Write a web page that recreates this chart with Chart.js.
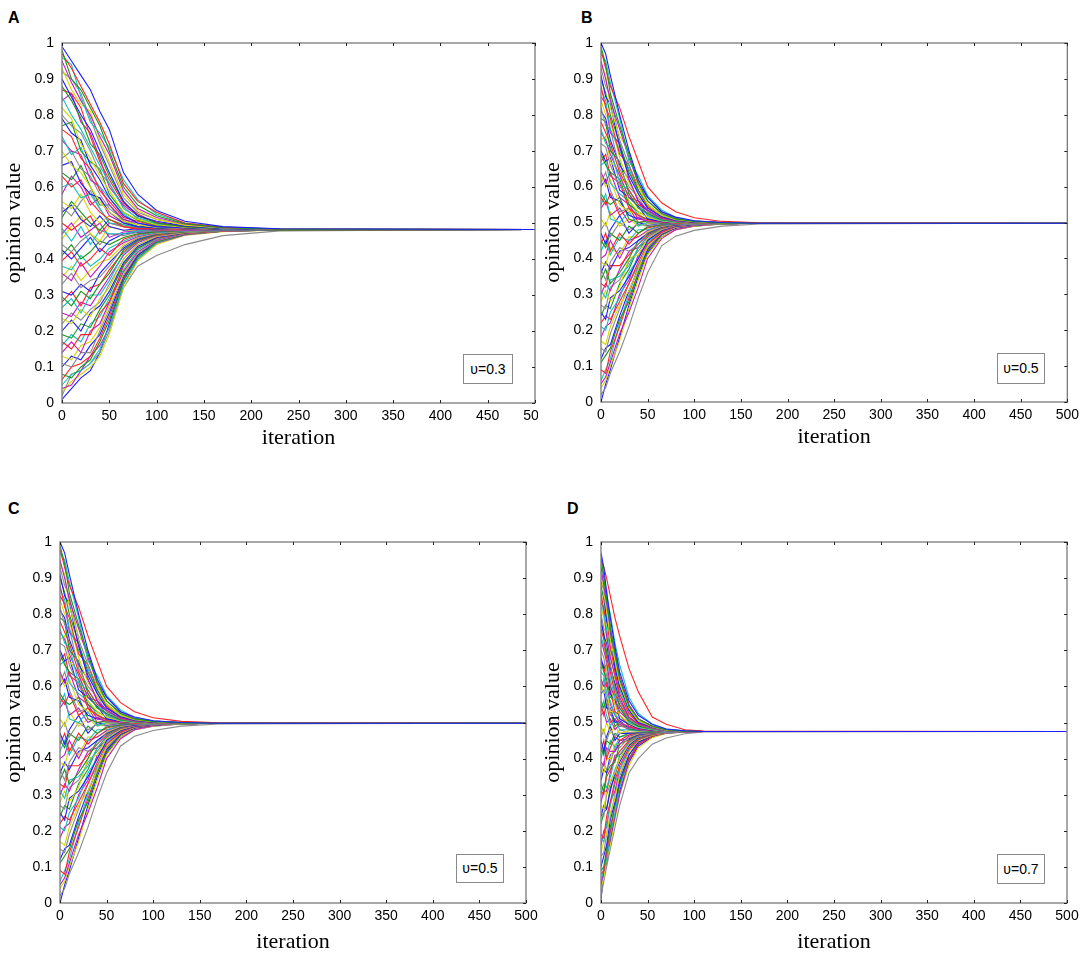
<!DOCTYPE html>
<html>
<head>
<meta charset="utf-8">
<script src="https://cdn.jsdelivr.net/npm/chart.js@4.4.0/dist/chart.umd.min.js"></script>
<style>
  body { margin: 0; background: #fff; width: 1084px; height: 961px; position: relative; overflow: hidden;
         font-family: "Liberation Sans", Arial, sans-serif; }
  .panel { position: absolute; overflow: hidden; }
  .tag { position: absolute; font-weight: bold; font-size: 16px; line-height: 18px; }
  .ubox { position: absolute; box-sizing: border-box; border: 1px solid #8a8a8a; font-size: 14px;
          text-align: center; background: #fff; }
</style>
</head>
<body>
<div class="tag" style="left:8px;top:9px">A</div>
<div class="tag" style="left:581px;top:9px">B</div>
<div class="tag" style="left:8px;top:500px">C</div>
<div class="tag" style="left:567px;top:500px">D</div>

<div class="panel" id="wrapA"><canvas id="chartA"></canvas></div>
<div class="panel" id="wrapB"><canvas id="chartB"></canvas></div>
<div class="panel" id="wrapC"><canvas id="chartC"></canvas></div>
<div class="panel" id="wrapD"><canvas id="chartD"></canvas></div>

<div class="ubox" style="left:463px;top:354px;width:50px;height:30px;line-height:28px">υ=0.3</div>
<div class="ubox" style="left:997px;top:353px;width:48px;height:31px;line-height:29px">υ=0.5</div>
<div class="ubox" style="left:456px;top:854px;width:48px;height:29px;line-height:27px">υ=0.5</div>
<div class="ubox" style="left:997px;top:854px;width:48px;height:30px;line-height:28px">υ=0.7</div>

<script>
//Tick values and labels shared by all four panels
const xTicks = [0, 50, 100, 150, 200, 250, 300, 350, 400, 450, 500];
const xTickLabels = ['0', '50', '100', '150', '200', '250', '300', '350', '400', '450', '500'];
const yTicks = [0, 0.1, 0.2, 0.3, 0.4, 0.5, 0.6, 0.7, 0.8, 0.9, 1];
const yTickLabels = ['0', '0.1', '0.2', '0.3', '0.4', '0.5', '0.6', '0.7', '0.8', '0.9', '1'];

//Panel A (υ=0.3): iterations where the opinions were read, one row per agent
const iterA = [0, 10, 20, 30, 40, 50, 65, 80, 100, 130, 170, 230, 500];
const opinionsA = [
  [0.99, 0.95, 0.91, 0.87, 0.81, 0.76, 0.64, 0.58, 0.535, 0.505, 0.490, 0.484, 0.482],
  [0.98, 0.90, 0.87, 0.82, 0.77, 0.70, 0.60, 0.55, 0.52, 0.498, 0.487, 0.483, 0.482],
  [0.97, 0.93, 0.88, 0.83, 0.78, 0.72, 0.61, 0.56, 0.53, 0.50, 0.488, 0.483, 0.482],
  [0.96, 0.94, 0.85, 0.78, 0.75, 0.71, 0.62, 0.565, 0.525, 0.50, 0.489, 0.483, 0.482],
  [0.95, 0.89, 0.84, 0.80, 0.74, 0.69, 0.59, 0.54, 0.515, 0.497, 0.487, 0.483, 0.482],
  [0.93, 0.87, 0.83, 0.81, 0.73, 0.67, 0.58, 0.535, 0.51, 0.494, 0.486, 0.483, 0.482],
  [0.92, 0.90, 0.86, 0.79, 0.72, 0.66, 0.57, 0.53, 0.51, 0.495, 0.486, 0.483, 0.482],
  [0.90, 0.85, 0.80, 0.76, 0.70, 0.64, 0.56, 0.52, 0.505, 0.492, 0.485, 0.482, 0.482],
  [0.88, 0.84, 0.79, 0.72, 0.69, 0.63, 0.56, 0.52, 0.50, 0.49, 0.485, 0.482, 0.482],
  [0.87, 0.86, 0.82, 0.74, 0.67, 0.62, 0.555, 0.525, 0.50, 0.49, 0.485, 0.482, 0.482],
  [0.85, 0.80, 0.76, 0.71, 0.66, 0.61, 0.54, 0.515, 0.498, 0.49, 0.484, 0.482, 0.482],
  [0.84, 0.86, 0.78, 0.75, 0.68, 0.60, 0.55, 0.52, 0.502, 0.491, 0.485, 0.482, 0.482],
  [0.82, 0.79, 0.72, 0.68, 0.63, 0.59, 0.53, 0.51, 0.495, 0.488, 0.484, 0.482, 0.482],
  [0.80, 0.77, 0.75, 0.70, 0.64, 0.61, 0.545, 0.512, 0.497, 0.489, 0.484, 0.482, 0.482],
  [0.79, 0.75, 0.73, 0.66, 0.62, 0.57, 0.52, 0.50, 0.49, 0.487, 0.483, 0.482, 0.482],
  [0.77, 0.78, 0.70, 0.67, 0.65, 0.58, 0.53, 0.508, 0.494, 0.487, 0.483, 0.482, 0.482],
  [0.76, 0.74, 0.68, 0.65, 0.59, 0.56, 0.515, 0.505, 0.492, 0.486, 0.483, 0.482, 0.482],
  [0.74, 0.69, 0.71, 0.64, 0.60, 0.57, 0.525, 0.50, 0.49, 0.486, 0.483, 0.482, 0.482],
  [0.73, 0.70, 0.69, 0.62, 0.60, 0.55, 0.51, 0.50, 0.49, 0.485, 0.483, 0.482, 0.482],
  [0.70, 0.66, 0.64, 0.60, 0.56, 0.53, 0.505, 0.495, 0.488, 0.485, 0.483, 0.482, 0.482],
  [0.68, 0.70, 0.65, 0.63, 0.58, 0.54, 0.51, 0.495, 0.488, 0.485, 0.483, 0.482, 0.482],
  [0.66, 0.67, 0.61, 0.58, 0.57, 0.53, 0.50, 0.49, 0.487, 0.484, 0.483, 0.482, 0.482],
  [0.64, 0.62, 0.66, 0.60, 0.55, 0.55, 0.505, 0.49, 0.486, 0.484, 0.482, 0.482, 0.482],
  [0.63, 0.60, 0.62, 0.56, 0.53, 0.51, 0.49, 0.485, 0.484, 0.483, 0.482, 0.482, 0.482],
  [0.60, 0.61, 0.57, 0.58, 0.54, 0.50, 0.495, 0.488, 0.485, 0.483, 0.482, 0.482, 0.482],
  [0.58, 0.63, 0.60, 0.55, 0.57, 0.52, 0.50, 0.49, 0.485, 0.483, 0.482, 0.482, 0.482],
  [0.56, 0.54, 0.58, 0.53, 0.50, 0.52, 0.50, 0.49, 0.486, 0.483, 0.482, 0.482, 0.482],
  [0.545, 0.52, 0.56, 0.59, 0.54, 0.50, 0.49, 0.487, 0.484, 0.483, 0.482, 0.482, 0.482],
  [0.53, 0.55, 0.51, 0.49, 0.52, 0.49, 0.48, 0.484, 0.483, 0.482, 0.482, 0.482, 0.482],
  [0.515, 0.56, 0.53, 0.50, 0.48, 0.51, 0.495, 0.486, 0.483, 0.482, 0.482, 0.482, 0.482],
  [0.50, 0.48, 0.50, 0.52, 0.47, 0.50, 0.49, 0.482, 0.481, 0.482, 0.482, 0.482, 0.482],
  [0.485, 0.45, 0.49, 0.44, 0.48, 0.47, 0.47, 0.478, 0.481, 0.482, 0.482, 0.482, 0.482],
  [0.47, 0.50, 0.46, 0.48, 0.50, 0.46, 0.475, 0.478, 0.480, 0.481, 0.482, 0.482, 0.482],
  [0.455, 0.49, 0.52, 0.47, 0.45, 0.49, 0.48, 0.479, 0.481, 0.482, 0.482, 0.482, 0.482],
  [0.44, 0.42, 0.45, 0.47, 0.44, 0.47, 0.465, 0.475, 0.478, 0.480, 0.481, 0.482, 0.482],
  [0.425, 0.40, 0.43, 0.46, 0.42, 0.45, 0.47, 0.474, 0.478, 0.48, 0.481, 0.482, 0.482],
  [0.41, 0.44, 0.40, 0.42, 0.45, 0.44, 0.46, 0.47, 0.476, 0.479, 0.481, 0.482, 0.482],
  [0.395, 0.42, 0.38, 0.40, 0.43, 0.41, 0.455, 0.468, 0.476, 0.479, 0.481, 0.482, 0.482],
  [0.38, 0.37, 0.41, 0.38, 0.40, 0.43, 0.45, 0.465, 0.474, 0.478, 0.481, 0.482, 0.482],
  [0.36, 0.34, 0.39, 0.35, 0.38, 0.42, 0.445, 0.462, 0.473, 0.478, 0.481, 0.482, 0.482],
  [0.35, 0.38, 0.34, 0.37, 0.39, 0.40, 0.44, 0.46, 0.472, 0.477, 0.480, 0.482, 0.482],
  [0.33, 0.36, 0.32, 0.34, 0.35, 0.38, 0.435, 0.458, 0.471, 0.477, 0.480, 0.482, 0.482],
  [0.31, 0.30, 0.33, 0.31, 0.36, 0.39, 0.43, 0.455, 0.47, 0.477, 0.480, 0.482, 0.482],
  [0.295, 0.27, 0.31, 0.29, 0.33, 0.36, 0.425, 0.452, 0.469, 0.476, 0.480, 0.481, 0.482],
  [0.28, 0.31, 0.27, 0.32, 0.33, 0.37, 0.42, 0.45, 0.467, 0.476, 0.480, 0.481, 0.482],
  [0.265, 0.29, 0.25, 0.30, 0.30, 0.34, 0.415, 0.448, 0.466, 0.475, 0.479, 0.481, 0.482],
  [0.25, 0.24, 0.28, 0.27, 0.31, 0.35, 0.41, 0.445, 0.465, 0.475, 0.479, 0.481, 0.482],
  [0.235, 0.22, 0.26, 0.24, 0.29, 0.32, 0.40, 0.44, 0.463, 0.474, 0.479, 0.481, 0.482],
  [0.22, 0.25, 0.23, 0.26, 0.28, 0.33, 0.40, 0.44, 0.462, 0.474, 0.479, 0.481, 0.482],
  [0.20, 0.23, 0.20, 0.25, 0.27, 0.31, 0.39, 0.435, 0.46, 0.473, 0.479, 0.481, 0.482],
  [0.19, 0.18, 0.22, 0.21, 0.26, 0.30, 0.385, 0.43, 0.46, 0.473, 0.479, 0.481, 0.482],
  [0.17, 0.15, 0.19, 0.19, 0.25, 0.28, 0.38, 0.43, 0.457, 0.472, 0.478, 0.481, 0.482],
  [0.16, 0.19, 0.17, 0.22, 0.24, 0.29, 0.37, 0.425, 0.455, 0.472, 0.478, 0.481, 0.482],
  [0.14, 0.17, 0.14, 0.20, 0.22, 0.28, 0.365, 0.42, 0.452, 0.471, 0.478, 0.481, 0.482],
  [0.13, 0.12, 0.16, 0.17, 0.21, 0.27, 0.36, 0.42, 0.452, 0.471, 0.478, 0.481, 0.482],
  [0.11, 0.10, 0.14, 0.14, 0.20, 0.26, 0.355, 0.415, 0.45, 0.47, 0.478, 0.481, 0.482],
  [0.10, 0.13, 0.12, 0.16, 0.19, 0.25, 0.35, 0.41, 0.45, 0.47, 0.478, 0.481, 0.482],
  [0.08, 0.07, 0.10, 0.12, 0.17, 0.23, 0.34, 0.405, 0.447, 0.469, 0.477, 0.481, 0.482],
  [0.065, 0.10, 0.11, 0.13, 0.18, 0.24, 0.345, 0.41, 0.448, 0.469, 0.477, 0.481, 0.482],
  [0.05, 0.08, 0.09, 0.11, 0.15, 0.21, 0.33, 0.40, 0.445, 0.468, 0.477, 0.481, 0.482],
  [0.04, 0.05, 0.09, 0.13, 0.16, 0.21, 0.33, 0.40, 0.444, 0.467, 0.477, 0.481, 0.482],
  [0.03, 0.06, 0.08, 0.10, 0.13, 0.19, 0.32, 0.395, 0.44, 0.466, 0.476, 0.481, 0.482],
  [0.02, 0.08, 0.09, 0.11, 0.14, 0.20, 0.32, 0.38, 0.41, 0.44, 0.465, 0.478, 0.482],
  [0.01, 0.04, 0.07, 0.09, 0.14, 0.22, 0.34, 0.41, 0.45, 0.47, 0.478, 0.481, 0.482]
];

//Panel B (υ=0.5)
const iterB = [0, 5, 10, 20, 30, 40, 50, 65, 80, 100, 130, 170, 500];
const opinionsB = [
  [1.00, 0.97, 0.91, 0.80, 0.70, 0.62, 0.57, 0.53, 0.515, 0.505, 0.500, 0.498, 0.498],
  [0.99, 0.94, 0.86, 0.77, 0.69, 0.61, 0.56, 0.525, 0.51, 0.503, 0.499, 0.498, 0.498],
  [0.98, 0.93, 0.88, 0.82, 0.74, 0.67, 0.60, 0.555, 0.53, 0.513, 0.503, 0.499, 0.498],
  [0.97, 0.95, 0.89, 0.79, 0.67, 0.63, 0.575, 0.535, 0.514, 0.504, 0.500, 0.498, 0.498],
  [0.95, 0.90, 0.84, 0.76, 0.68, 0.61, 0.57, 0.53, 0.512, 0.504, 0.500, 0.498, 0.498],
  [0.94, 0.91, 0.82, 0.74, 0.70, 0.60, 0.55, 0.52, 0.508, 0.502, 0.499, 0.498, 0.498],
  [0.93, 0.88, 0.85, 0.73, 0.66, 0.60, 0.56, 0.525, 0.51, 0.503, 0.499, 0.498, 0.498],
  [0.91, 0.85, 0.83, 0.71, 0.63, 0.58, 0.54, 0.516, 0.506, 0.501, 0.499, 0.498, 0.498],
  [0.90, 0.86, 0.80, 0.72, 0.64, 0.59, 0.55, 0.52, 0.508, 0.502, 0.499, 0.498, 0.498],
  [0.88, 0.82, 0.79, 0.69, 0.66, 0.59, 0.545, 0.514, 0.505, 0.500, 0.499, 0.498, 0.498],
  [0.87, 0.84, 0.76, 0.70, 0.65, 0.58, 0.54, 0.515, 0.506, 0.501, 0.499, 0.498, 0.498],
  [0.85, 0.83, 0.75, 0.72, 0.62, 0.56, 0.535, 0.512, 0.504, 0.500, 0.498, 0.498, 0.498],
  [0.84, 0.80, 0.78, 0.68, 0.61, 0.57, 0.545, 0.517, 0.505, 0.500, 0.499, 0.498, 0.498],
  [0.82, 0.77, 0.76, 0.65, 0.60, 0.57, 0.53, 0.51, 0.503, 0.499, 0.498, 0.498, 0.498],
  [0.81, 0.79, 0.73, 0.66, 0.62, 0.56, 0.53, 0.512, 0.504, 0.500, 0.498, 0.498, 0.498],
  [0.79, 0.78, 0.70, 0.67, 0.58, 0.54, 0.525, 0.508, 0.502, 0.499, 0.498, 0.498, 0.498],
  [0.78, 0.75, 0.72, 0.64, 0.59, 0.55, 0.535, 0.51, 0.503, 0.499, 0.498, 0.498, 0.498],
  [0.76, 0.72, 0.71, 0.61, 0.59, 0.55, 0.52, 0.506, 0.501, 0.499, 0.498, 0.498, 0.498],
  [0.75, 0.73, 0.69, 0.63, 0.57, 0.56, 0.52, 0.508, 0.502, 0.499, 0.498, 0.498, 0.498],
  [0.73, 0.74, 0.67, 0.64, 0.56, 0.53, 0.515, 0.504, 0.500, 0.498, 0.498, 0.498, 0.498],
  [0.72, 0.71, 0.66, 0.60, 0.58, 0.54, 0.525, 0.506, 0.501, 0.499, 0.498, 0.498, 0.498],
  [0.70, 0.67, 0.68, 0.59, 0.57, 0.545, 0.51, 0.503, 0.500, 0.498, 0.498, 0.498, 0.498],
  [0.69, 0.66, 0.64, 0.62, 0.55, 0.53, 0.515, 0.505, 0.500, 0.499, 0.498, 0.498, 0.498],
  [0.67, 0.69, 0.63, 0.61, 0.54, 0.52, 0.508, 0.502, 0.499, 0.498, 0.498, 0.498, 0.498],
  [0.66, 0.67, 0.61, 0.58, 0.56, 0.52, 0.51, 0.503, 0.500, 0.498, 0.498, 0.498, 0.498],
  [0.64, 0.61, 0.64, 0.57, 0.55, 0.51, 0.505, 0.501, 0.499, 0.498, 0.498, 0.498, 0.498],
  [0.63, 0.60, 0.62, 0.55, 0.53, 0.525, 0.505, 0.502, 0.499, 0.498, 0.498, 0.498, 0.498],
  [0.61, 0.64, 0.59, 0.53, 0.54, 0.52, 0.50, 0.500, 0.498, 0.498, 0.498, 0.498, 0.498],
  [0.60, 0.62, 0.57, 0.56, 0.52, 0.51, 0.51, 0.500, 0.499, 0.498, 0.498, 0.498, 0.498],
  [0.58, 0.56, 0.55, 0.57, 0.51, 0.50, 0.503, 0.499, 0.498, 0.498, 0.498, 0.498, 0.498],
  [0.57, 0.55, 0.58, 0.52, 0.54, 0.50, 0.505, 0.499, 0.498, 0.498, 0.498, 0.498, 0.498],
  [0.55, 0.58, 0.51, 0.50, 0.53, 0.49, 0.50, 0.498, 0.498, 0.498, 0.498, 0.498, 0.498],
  [0.54, 0.56, 0.52, 0.54, 0.50, 0.515, 0.50, 0.498, 0.498, 0.498, 0.498, 0.498, 0.498],
  [0.51, 0.49, 0.53, 0.49, 0.51, 0.49, 0.497, 0.498, 0.498, 0.498, 0.498, 0.498, 0.498],
  [0.48, 0.50, 0.46, 0.50, 0.48, 0.495, 0.49, 0.496, 0.497, 0.498, 0.498, 0.498, 0.498],
  [0.47, 0.44, 0.48, 0.52, 0.47, 0.50, 0.492, 0.496, 0.497, 0.498, 0.498, 0.498, 0.498],
  [0.45, 0.43, 0.47, 0.45, 0.49, 0.47, 0.488, 0.494, 0.497, 0.498, 0.498, 0.498, 0.498],
  [0.44, 0.47, 0.42, 0.47, 0.44, 0.47, 0.485, 0.493, 0.497, 0.498, 0.498, 0.498, 0.498],
  [0.42, 0.45, 0.41, 0.46, 0.45, 0.48, 0.48, 0.492, 0.496, 0.497, 0.498, 0.498, 0.498],
  [0.40, 0.41, 0.45, 0.40, 0.45, 0.46, 0.478, 0.491, 0.496, 0.497, 0.498, 0.498, 0.498],
  [0.39, 0.38, 0.43, 0.41, 0.46, 0.46, 0.475, 0.49, 0.495, 0.497, 0.498, 0.498, 0.498],
  [0.37, 0.34, 0.39, 0.43, 0.42, 0.44, 0.472, 0.489, 0.495, 0.497, 0.498, 0.498, 0.498],
  [0.36, 0.39, 0.37, 0.42, 0.43, 0.45, 0.47, 0.488, 0.494, 0.497, 0.498, 0.498, 0.498],
  [0.34, 0.37, 0.33, 0.36, 0.40, 0.45, 0.468, 0.487, 0.494, 0.497, 0.498, 0.498, 0.498],
  [0.33, 0.32, 0.38, 0.38, 0.41, 0.44, 0.465, 0.485, 0.493, 0.497, 0.498, 0.498, 0.498],
  [0.31, 0.29, 0.34, 0.35, 0.38, 0.43, 0.462, 0.484, 0.493, 0.496, 0.498, 0.498, 0.498],
  [0.30, 0.33, 0.31, 0.37, 0.42, 0.43, 0.46, 0.483, 0.492, 0.496, 0.498, 0.498, 0.498],
  [0.28, 0.31, 0.28, 0.32, 0.40, 0.41, 0.457, 0.481, 0.492, 0.496, 0.497, 0.498, 0.498],
  [0.27, 0.26, 0.32, 0.34, 0.39, 0.42, 0.455, 0.48, 0.491, 0.496, 0.497, 0.498, 0.498],
  [0.25, 0.23, 0.29, 0.31, 0.35, 0.40, 0.45, 0.478, 0.49, 0.495, 0.497, 0.498, 0.498],
  [0.24, 0.27, 0.26, 0.33, 0.37, 0.43, 0.45, 0.478, 0.49, 0.495, 0.497, 0.498, 0.498],
  [0.22, 0.24, 0.23, 0.28, 0.33, 0.39, 0.44, 0.474, 0.489, 0.495, 0.497, 0.498, 0.498],
  [0.21, 0.20, 0.25, 0.29, 0.36, 0.40, 0.445, 0.475, 0.489, 0.495, 0.497, 0.498, 0.498],
  [0.18, 0.21, 0.22, 0.30, 0.34, 0.41, 0.44, 0.472, 0.488, 0.494, 0.497, 0.498, 0.498],
  [0.17, 0.16, 0.21, 0.27, 0.31, 0.37, 0.435, 0.471, 0.487, 0.494, 0.497, 0.498, 0.498],
  [0.15, 0.14, 0.19, 0.26, 0.33, 0.38, 0.43, 0.47, 0.486, 0.494, 0.497, 0.498, 0.498],
  [0.12, 0.15, 0.16, 0.24, 0.31, 0.37, 0.425, 0.468, 0.485, 0.493, 0.497, 0.498, 0.498],
  [0.11, 0.13, 0.15, 0.23, 0.28, 0.36, 0.42, 0.466, 0.485, 0.493, 0.497, 0.498, 0.498],
  [0.09, 0.08, 0.14, 0.21, 0.29, 0.36, 0.42, 0.465, 0.484, 0.493, 0.497, 0.498, 0.498],
  [0.06, 0.09, 0.12, 0.22, 0.30, 0.38, 0.43, 0.47, 0.486, 0.494, 0.497, 0.498, 0.498],
  [0.05, 0.07, 0.11, 0.19, 0.25, 0.32, 0.40, 0.455, 0.48, 0.491, 0.496, 0.498, 0.498],
  [0.04, 0.06, 0.10, 0.17, 0.26, 0.34, 0.41, 0.46, 0.48, 0.49, 0.496, 0.498, 0.498],
  [0.02, 0.04, 0.08, 0.14, 0.21, 0.29, 0.36, 0.435, 0.462, 0.478, 0.49, 0.496, 0.498],
  [0.00, 0.05, 0.09, 0.18, 0.27, 0.35, 0.415, 0.46, 0.48, 0.49, 0.496, 0.498, 0.498]
];

//Panel C (υ=0.5) shows the very same run as panel B
const iterC = iterB;
const opinionsC = opinionsB;

//Panel D (υ=0.7)
const iterD = [0, 3, 6, 10, 15, 20, 30, 40, 55, 70, 90, 110, 500];
const opinionsD = [
  [0.97, 0.93, 0.86, 0.79, 0.71, 0.64, 0.56, 0.52, 0.495, 0.482, 0.477, 0.475, 0.475],
  [0.96, 0.90, 0.84, 0.76, 0.69, 0.62, 0.545, 0.51, 0.49, 0.48, 0.476, 0.475, 0.475],
  [0.95, 0.93, 0.90, 0.85, 0.79, 0.74, 0.65, 0.585, 0.515, 0.495, 0.48, 0.476, 0.475],
  [0.94, 0.91, 0.85, 0.80, 0.72, 0.66, 0.57, 0.525, 0.495, 0.482, 0.477, 0.475, 0.475],
  [0.93, 0.88, 0.83, 0.76, 0.70, 0.63, 0.55, 0.51, 0.49, 0.48, 0.476, 0.475, 0.475],
  [0.91, 0.86, 0.81, 0.73, 0.67, 0.61, 0.54, 0.505, 0.488, 0.479, 0.476, 0.475, 0.475],
  [0.90, 0.89, 0.87, 0.77, 0.68, 0.62, 0.545, 0.51, 0.488, 0.479, 0.476, 0.475, 0.475],
  [0.89, 0.87, 0.78, 0.75, 0.65, 0.60, 0.535, 0.50, 0.487, 0.478, 0.476, 0.475, 0.475],
  [0.88, 0.84, 0.79, 0.74, 0.66, 0.60, 0.54, 0.505, 0.487, 0.479, 0.476, 0.475, 0.475],
  [0.86, 0.81, 0.79, 0.71, 0.64, 0.58, 0.525, 0.498, 0.486, 0.478, 0.476, 0.475, 0.475],
  [0.85, 0.80, 0.76, 0.70, 0.67, 0.59, 0.53, 0.50, 0.486, 0.478, 0.476, 0.475, 0.475],
  [0.83, 0.82, 0.74, 0.68, 0.63, 0.57, 0.515, 0.496, 0.484, 0.477, 0.475, 0.475, 0.475],
  [0.82, 0.79, 0.73, 0.69, 0.62, 0.58, 0.52, 0.498, 0.485, 0.478, 0.476, 0.475, 0.475],
  [0.80, 0.76, 0.75, 0.66, 0.59, 0.56, 0.51, 0.494, 0.483, 0.477, 0.475, 0.475, 0.475],
  [0.79, 0.74, 0.72, 0.65, 0.61, 0.56, 0.515, 0.495, 0.484, 0.478, 0.476, 0.475, 0.475],
  [0.77, 0.75, 0.69, 0.66, 0.60, 0.54, 0.505, 0.49, 0.482, 0.477, 0.475, 0.475, 0.475],
  [0.76, 0.73, 0.68, 0.64, 0.58, 0.55, 0.51, 0.493, 0.483, 0.477, 0.475, 0.475, 0.475],
  [0.74, 0.71, 0.70, 0.62, 0.57, 0.55, 0.50, 0.488, 0.481, 0.476, 0.475, 0.475, 0.475],
  [0.73, 0.70, 0.67, 0.60, 0.57, 0.53, 0.505, 0.49, 0.482, 0.477, 0.475, 0.475, 0.475],
  [0.71, 0.72, 0.65, 0.61, 0.55, 0.52, 0.498, 0.486, 0.48, 0.476, 0.475, 0.475, 0.475],
  [0.70, 0.68, 0.63, 0.60, 0.55, 0.54, 0.50, 0.488, 0.481, 0.477, 0.475, 0.475, 0.475],
  [0.68, 0.65, 0.66, 0.58, 0.56, 0.51, 0.495, 0.484, 0.479, 0.476, 0.475, 0.475, 0.475],
  [0.67, 0.64, 0.62, 0.57, 0.56, 0.52, 0.497, 0.485, 0.48, 0.476, 0.475, 0.475, 0.475],
  [0.65, 0.66, 0.60, 0.59, 0.53, 0.52, 0.49, 0.483, 0.478, 0.476, 0.475, 0.475, 0.475],
  [0.64, 0.63, 0.58, 0.56, 0.52, 0.51, 0.495, 0.484, 0.479, 0.476, 0.475, 0.475, 0.475],
  [0.62, 0.60, 0.61, 0.55, 0.52, 0.50, 0.488, 0.481, 0.478, 0.475, 0.475, 0.475, 0.475],
  [0.61, 0.58, 0.59, 0.53, 0.53, 0.50, 0.49, 0.482, 0.478, 0.476, 0.475, 0.475, 0.475],
  [0.59, 0.62, 0.56, 0.52, 0.53, 0.49, 0.485, 0.48, 0.477, 0.475, 0.475, 0.475, 0.475],
  [0.58, 0.59, 0.54, 0.54, 0.50, 0.505, 0.485, 0.48, 0.477, 0.476, 0.475, 0.475, 0.475],
  [0.56, 0.54, 0.57, 0.53, 0.49, 0.50, 0.482, 0.479, 0.476, 0.475, 0.475, 0.475, 0.475],
  [0.55, 0.52, 0.55, 0.50, 0.51, 0.49, 0.487, 0.479, 0.477, 0.475, 0.475, 0.475, 0.475],
  [0.53, 0.56, 0.52, 0.49, 0.51, 0.48, 0.48, 0.477, 0.476, 0.475, 0.475, 0.475, 0.475],
  [0.52, 0.53, 0.50, 0.51, 0.48, 0.495, 0.48, 0.478, 0.476, 0.475, 0.475, 0.475, 0.475],
  [0.49, 0.47, 0.50, 0.47, 0.49, 0.47, 0.478, 0.476, 0.475, 0.475, 0.475, 0.475, 0.475],
  [0.46, 0.48, 0.45, 0.48, 0.46, 0.48, 0.472, 0.474, 0.475, 0.475, 0.475, 0.475, 0.475],
  [0.45, 0.42, 0.46, 0.49, 0.45, 0.47, 0.47, 0.473, 0.475, 0.475, 0.475, 0.475, 0.475],
  [0.43, 0.41, 0.45, 0.44, 0.47, 0.46, 0.47, 0.472, 0.474, 0.475, 0.475, 0.475, 0.475],
  [0.42, 0.45, 0.40, 0.43, 0.46, 0.45, 0.466, 0.472, 0.474, 0.475, 0.475, 0.475, 0.475],
  [0.40, 0.43, 0.41, 0.45, 0.43, 0.46, 0.465, 0.471, 0.473, 0.474, 0.475, 0.475, 0.475],
  [0.39, 0.38, 0.43, 0.42, 0.42, 0.44, 0.462, 0.47, 0.473, 0.474, 0.475, 0.475, 0.475],
  [0.37, 0.36, 0.40, 0.40, 0.44, 0.44, 0.46, 0.469, 0.473, 0.474, 0.475, 0.475, 0.475],
  [0.36, 0.39, 0.37, 0.39, 0.43, 0.43, 0.458, 0.468, 0.472, 0.474, 0.475, 0.475, 0.475],
  [0.34, 0.37, 0.36, 0.41, 0.42, 0.45, 0.455, 0.467, 0.472, 0.474, 0.475, 0.475, 0.475],
  [0.33, 0.31, 0.36, 0.38, 0.39, 0.44, 0.452, 0.466, 0.472, 0.474, 0.475, 0.475, 0.475],
  [0.31, 0.30, 0.35, 0.37, 0.40, 0.42, 0.45, 0.465, 0.471, 0.474, 0.475, 0.475, 0.475],
  [0.30, 0.33, 0.32, 0.35, 0.40, 0.41, 0.447, 0.463, 0.471, 0.474, 0.475, 0.475, 0.475],
  [0.28, 0.31, 0.31, 0.36, 0.41, 0.41, 0.445, 0.462, 0.47, 0.474, 0.475, 0.475, 0.475],
  [0.27, 0.26, 0.31, 0.34, 0.36, 0.40, 0.442, 0.461, 0.47, 0.473, 0.475, 0.475, 0.475],
  [0.25, 0.24, 0.30, 0.33, 0.37, 0.40, 0.44, 0.46, 0.469, 0.473, 0.475, 0.475, 0.475],
  [0.24, 0.27, 0.26, 0.31, 0.36, 0.39, 0.437, 0.459, 0.469, 0.473, 0.475, 0.475, 0.475],
  [0.22, 0.25, 0.26, 0.32, 0.35, 0.41, 0.435, 0.458, 0.468, 0.473, 0.475, 0.475, 0.475],
  [0.19, 0.18, 0.24, 0.28, 0.34, 0.38, 0.43, 0.455, 0.467, 0.473, 0.475, 0.475, 0.475],
  [0.18, 0.17, 0.22, 0.27, 0.33, 0.37, 0.428, 0.454, 0.467, 0.473, 0.475, 0.475, 0.475],
  [0.16, 0.20, 0.21, 0.28, 0.31, 0.37, 0.425, 0.452, 0.466, 0.472, 0.474, 0.475, 0.475],
  [0.14, 0.17, 0.19, 0.25, 0.29, 0.36, 0.42, 0.45, 0.465, 0.472, 0.474, 0.475, 0.475],
  [0.13, 0.14, 0.19, 0.24, 0.30, 0.35, 0.42, 0.45, 0.465, 0.472, 0.474, 0.475, 0.475],
  [0.10, 0.13, 0.16, 0.23, 0.28, 0.34, 0.41, 0.445, 0.464, 0.472, 0.474, 0.475, 0.475],
  [0.09, 0.10, 0.15, 0.21, 0.27, 0.33, 0.41, 0.446, 0.464, 0.472, 0.474, 0.475, 0.475],
  [0.08, 0.09, 0.14, 0.20, 0.27, 0.33, 0.40, 0.44, 0.462, 0.471, 0.474, 0.475, 0.475],
  [0.06, 0.10, 0.12, 0.19, 0.25, 0.32, 0.40, 0.442, 0.463, 0.471, 0.474, 0.475, 0.475],
  [0.05, 0.09, 0.13, 0.18, 0.24, 0.30, 0.395, 0.44, 0.462, 0.471, 0.474, 0.475, 0.475],
  [0.04, 0.07, 0.12, 0.16, 0.23, 0.30, 0.38, 0.43, 0.458, 0.47, 0.474, 0.475, 0.475],
  [0.02, 0.06, 0.10, 0.15, 0.21, 0.27, 0.36, 0.40, 0.44, 0.457, 0.469, 0.474, 0.475],
  [0.01, 0.08, 0.11, 0.17, 0.24, 0.31, 0.39, 0.435, 0.46, 0.47, 0.474, 0.475, 0.475]
];

//MATLAB style colour cycle b, g, r, c, m, y, k
const lineColors = ['#1e1eff', '#1a961a', '#ff2424', '#17c0c0', '#c31ac3', '#d6d600', '#8a8a8a'];

//Draws the box round the axes and the small inward tick marks
const framePlugin = {
  id: 'frame',
  afterDatasetsDraw(chart) {
    const {ctx, chartArea: a, scales: {x, y}} = chart;
    ctx.save();
    ctx.strokeStyle = '#7a7a7a';
    ctx.lineWidth = 1.3;
    ctx.strokeRect(a.left, a.top, a.right - a.left, a.bottom - a.top);
    ctx.strokeStyle = '#222';
    ctx.lineWidth = 1;
    ctx.beginPath();
    x.ticks.forEach(t => {
      const px = Math.round(x.getPixelForValue(t.value)) + 0.5;
      ctx.moveTo(px, a.top); ctx.lineTo(px, a.top + 3);
      ctx.moveTo(px, a.bottom); ctx.lineTo(px, a.bottom - 3);
    });
    y.ticks.forEach(t => {
      const py = Math.round(y.getPixelForValue(t.value)) + 0.5;
      ctx.moveTo(a.right, py); ctx.lineTo(a.right - 3, py);
    });
    ctx.stroke();
    ctx.restore();
  }
};

//Builds one panel; geo holds where the canvas sits and where the plot box must land
function makePanel(id, iters, opinions, geo){
  const wrap = document.getElementById('wrap' + id);
  wrap.style.left = geo.cx + 'px';
  wrap.style.top = geo.cy + 'px';
  wrap.style.width = (geo.clipW || geo.cw) + 'px';
  wrap.style.height = geo.ch + 'px';
  const canvas = document.getElementById('chart' + id);
  canvas.width = geo.cw;
  canvas.height = geo.ch;

  const datasets = opinions.map((vals, i) => ({
    data: vals.map((v, k) => ({x: iters[k], y: v})),
    borderColor: lineColors[i % lineColors.length],
    borderWidth: 1.1,
    pointRadius: 0,
    fill: false,
    tension: 0
  }));

  const tickFont = {family: '"Liberation Sans", Arial, sans-serif', size: 14};
  const titleFont = {family: '"Liberation Serif", "Times New Roman", serif', size: 22};

  return new Chart(canvas, {
    type: 'line',
    data: {datasets},
    options: {
      responsive: false,
      animation: false,
      layout: {padding: {
        left: 0,
        top: geo.t - geo.cy,
        right: geo.cx + geo.cw - geo.r,
        bottom: geo.cy + geo.ch - geo.b - geo.xh
      }},
      plugins: {legend: {display: false}, tooltip: {enabled: false}},
      scales: {
        x: {
          type: 'linear', min: 0, max: 500,
          afterBuildTicks: s => { s.ticks = xTicks.map(v => ({value: v})); },
          afterFit: s => { s.height = geo.xh; },
          ticks: {font: tickFont, color: '#000', padding: 5, maxRotation: 0, autoSkip: false,
                  callback: (v, i) => xTickLabels[i]},
          grid: {display: false, drawTicks: false},
          border: {display: false},
          title: {display: true, text: 'iteration', font: titleFont, color: '#000',
                  padding: {top: 0, bottom: geo.tb}}
        },
        y: {
          type: 'linear', min: 0, max: 1,
          afterBuildTicks: s => { s.ticks = yTicks.map(v => ({value: v})); },
          afterFit: s => { s.width = geo.l - geo.cx; },
          ticks: {font: tickFont, color: '#000', padding: 8, autoSkip: false,
                  callback: (v, i) => yTickLabels[i]},
          grid: {display: false, drawTicks: false},
          border: {display: false},
          title: {display: true, text: 'opinion value', font: titleFont, color: '#000',
                  padding: {top: 1, bottom: 0}}
        }
      }
    },
    plugins: [framePlugin]
  });
}

makePanel('A', iterA, opinionsA, {cx: 0, cy: 0, cw: 560, ch: 480, clipW: 538, l: 62, t: 43, r: 535, b: 403, xh: 50, tb: 2});
makePanel('B', iterB, opinionsB, {cx: 539, cy: 0, cw: 545, ch: 480, l: 601, t: 43, r: 1068, b: 402, xh: 50, tb: 2});
makePanel('C', iterC, opinionsC, {cx: 0, cy: 490, cw: 545, ch: 471, l: 60, t: 542, r: 526, b: 903, xh: 54, tb: 2});
makePanel('D', iterD, opinionsD, {cx: 539, cy: 490, cw: 545, ch: 471, l: 601, t: 542, r: 1067, b: 903, xh: 54, tb: 2});
</script>
</body>
</html>
